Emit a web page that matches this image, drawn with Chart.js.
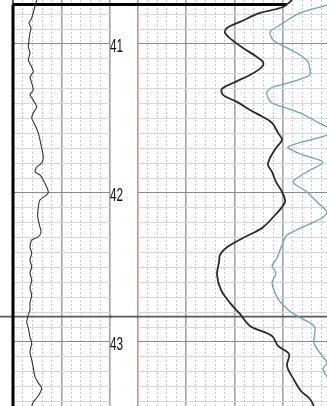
<!DOCTYPE html>
<html>
<head>
<meta charset="utf-8">
<script src="https://cdn.jsdelivr.net/npm/chart.js@4.4.1/dist/chart.umd.min.js"></script>
<style>
html,body{margin:0;padding:0;background:#fff;}
body{width:327px;height:406px;overflow:hidden;position:relative;}
canvas{position:absolute;top:0;}
#cA{left:0;}
#cB{left:110px;}
</style>
</head>
<body>
<canvas id="cA" width="112" height="406"></canvas>
<canvas id="cB" width="221" height="406"></canvas>
<script>
// ---- depth range and labels ----
const depthTop = 40.705;
const depthBottom = 43.43;
const depthLabels = [41, 42, 43];
const logStartDepth = 40.735;   // thick top line
const markerDepth = 42.83;      // dark full-width line

// ---- track scales ----
const leftMin = 0, leftMax = 100, leftMinorStep = 10, leftMajorStep = 50;
const rightMin = 0, rightMax = 200, rightMinorStep = 10, rightMajorStep = 50;
const topLineEndValue = 154;

// ---- left track curve ----
const leftDepth = [40.705,40.772,40.826,40.859,40.893,40.926,40.973,41.020,41.060,41.107,41.154,41.188,41.221,41.262,41.309,41.342,41.376,41.423,41.463,41.497,41.544,41.597,41.644,41.698,41.758,41.799,41.826,41.859,41.879,41.913,41.960,41.993,42.013,42.047,42.094,42.161,42.228,42.262,42.295,42.315,42.362,42.403,42.450,42.497,42.537,42.584,42.638,42.685,42.738,42.785,42.819,42.866,42.906,42.966,43.007,43.067,43.121,43.174,43.235,43.275,43.309,43.342,43.376,43.403,43.430];
const leftValue = [24.4,21.6,19.3,16.5,18.6,17.5,16.5,15.8,17.5,15.8,19.3,20.9,17.5,19.3,20.9,17.5,20.9,24.4,20.9,19.3,22.7,26.1,27.8,29.6,31.2,29.6,24.4,22.7,27.8,31.2,34.7,36.4,34.7,27.8,26.1,25.5,27.8,28.9,26.1,19.3,17.5,19.3,17.5,19.3,17.5,19.3,17.5,19.3,17.5,17.5,15.8,14.1,15.8,17.5,19.3,17.5,19.3,20.9,22.7,26.1,29.6,27.8,24.4,20.9,19.3];

// ---- right track: black curve ----
const blackDepth = [40.705,40.752,40.792,40.852,40.893,40.926,40.973,41.027,41.087,41.121,41.154,41.208,41.262,41.302,41.342,41.389,41.443,41.490,41.530,41.597,41.644,41.698,41.765,41.812,41.859,41.926,41.993,42.060,42.148,42.235,42.302,42.369,42.416,42.463,42.550,42.651,42.738,42.812,42.893,42.960,43.027,43.081,43.161,43.255,43.329,43.383,43.430];
const blackValue = [159.6,150.3,126.4,105.7,92.2,90.2,97.4,108.8,123.3,129.5,128.5,116.1,98.4,87.0,88.1,102.6,116.1,129.5,138.9,145.1,149.2,143.0,136.8,134.7,138.9,143.0,149.2,152.3,142.0,128.5,108.8,91.2,85.0,84.0,81.9,86.0,95.3,105.7,116.1,138.9,145.1,156.5,154.4,161.7,168.9,178.2,182.4];

// ---- right track: teal curve ----
const tealDepth = [40.705,40.738,40.792,40.872,40.919,40.973,41.020,41.054,41.074,41.121,41.174,41.208,41.255,41.289,41.322,41.362,41.396,41.423,41.463,41.523,41.557,41.584,41.617,41.691,41.745,41.792,41.859,41.926,41.993,42.067,42.128,42.168,42.228,42.282,42.349,42.436,42.490,42.537,42.604,42.711,42.805,42.872,42.906,43.007,43.094,43.141,43.181,43.248,43.336,43.430];
const tealValue = [204.0,195.9,167.9,147.2,136.8,139.9,152.3,162.7,167.9,176.2,178.2,178.2,159.6,139.9,133.7,134.7,138.9,150.3,167.9,185.5,195.9,204.1,193.8,155.4,171.0,191.7,175.1,160.6,175.1,186.5,195.9,190.7,171.0,154.4,149.2,144.0,138.9,143.0,138.9,145.1,159.6,178.2,183.4,182.4,190.7,195.9,191.7,196.9,204.1,209.3];

// ---- grid positions ----
const depthGrid = [];
for (let k = 408; k <= 434; k++) depthGrid.push(k / 10);
const leftGrid = [];
for (let v = leftMin; v <= leftMax; v += leftMinorStep) leftGrid.push(v);
const rightGrid = [];
for (let v = rightMin; v <= rightMax; v += rightMinorStep) rightGrid.push(v);

const pts = (d, v) => d.map((dd, i) => ({x: v[i], y: dd}));
const isInt = v => Math.abs(v - Math.round(v)) < 1e-6;

function depthAxis(extra) {
  return Object.assign({
    type: 'linear', reverse: true, min: depthTop, max: depthBottom,
    afterBuildTicks: s => { s.ticks = depthGrid.map(v => ({value: v})); },
    ticks: {display: false},
    grid: {
      drawTicks: false,
      color: c => (c.tick && isInt(c.tick.value)) ? '#8c8c8c' : '#d6d6d6',
      lineWidth: 1
    },
    border: {display: false}
  }, extra);
}

function trackAxis(min, max, grid, major, zeroColor) {
  return {
    type: 'linear', position: 'top', min: min, max: max,
    afterBuildTicks: s => { s.ticks = grid.map(v => ({value: v})); },
    afterFit: s => { s.height = 0; },
    ticks: {display: false},
    grid: {
      drawTicks: false,
      color: c => {
        if (!c.tick) return '#ccc';
        const v = c.tick.value;
        if (zeroColor && v === 0) return zeroColor;
        return v % major === 0 ? '#a3a3a3' : '#c8c8c8';
      },
      lineWidth: c => (c.tick && c.tick.value % major === 0) ? 1.6 : 1
    },
    border: {
      display: false,
      dash: c => (c.tick && c.tick.value % major !== 0) ? [2, 2] : []
    }
  };
}

const overlayA = {
  id: 'overlayA',
  beforeDatasetsDraw(chart) {
    const ctx = chart.ctx, ys = chart.scales.y, a = chart.chartArea;
    const yTop = ys.getPixelForValue(logStartDepth);
    const yMark = ys.getPixelForValue(markerDepth);
    ctx.save();
    ctx.strokeStyle = '#5a5a5a'; ctx.lineWidth = 1.6;
    ctx.beginPath(); ctx.moveTo(0, yMark); ctx.lineTo(chart.width, yMark); ctx.stroke();
    ctx.strokeStyle = '#000';
    ctx.lineWidth = 3;
    ctx.beginPath(); ctx.moveTo(a.left, yTop); ctx.lineTo(chart.width, yTop); ctx.stroke();
    ctx.beginPath(); ctx.moveTo(a.left, yTop); ctx.lineTo(a.left, a.bottom); ctx.stroke();
    ctx.lineWidth = 1;
    ctx.beginPath(); ctx.moveTo(a.left, 0); ctx.lineTo(a.left, yTop); ctx.stroke();
    ctx.restore();
  }
};

const overlayB = {
  id: 'overlayB',
  beforeDatasetsDraw(chart) {
    const ctx = chart.ctx, ys = chart.scales.y, xs = chart.scales.x;
    const yTop = ys.getPixelForValue(logStartDepth);
    const yMark = ys.getPixelForValue(markerDepth);
    ctx.save();
    ctx.strokeStyle = '#5a5a5a'; ctx.lineWidth = 1.6;
    ctx.beginPath(); ctx.moveTo(0, yMark); ctx.lineTo(chart.width, yMark); ctx.stroke();
    ctx.strokeStyle = '#000'; ctx.lineWidth = 3;
    ctx.beginPath(); ctx.moveTo(0, yTop); ctx.lineTo(xs.getPixelForValue(topLineEndValue), yTop); ctx.stroke();
    // depth labels in the depth column (left of the y axis box)
    ctx.fillStyle = '#111';
    ctx.font = "19px 'Liberation Sans', Arial, sans-serif";
    ctx.textAlign = 'left';
    ctx.textBaseline = 'middle';
    depthLabels.forEach(d => {
      const y = ys.getPixelForValue(d) + 3;
      ctx.save();
      ctx.translate(ys.left, y);
      ctx.scale(0.62, 1);
      ctx.fillText(String(d), 0, 0);
      ctx.restore();
    });
    ctx.restore();
  }
};

const common = {
  responsive: false, animation: false, indexAxis: 'y',
  plugins: {legend: {display: false}, tooltip: {enabled: false}},
  elements: {point: {radius: 0}}
};

new Chart(document.getElementById('cA'), {
  type: 'line',
  data: {datasets: [{
    data: pts(leftDepth, leftValue),
    borderColor: '#333', borderWidth: 1.1, tension: 0.2, fill: false
  }]},
  options: Object.assign({}, common, {
    layout: {padding: {left: 13, right: 2, top: 0, bottom: 0}},
    scales: {
      x: trackAxis(leftMin, leftMax, leftGrid, leftMajorStep, null),
      y: depthAxis({afterFit: s => { s.width = 0; s.paddingTop = 0; s.paddingBottom = 0; }})
    }
  }),
  plugins: [overlayA]
});

new Chart(document.getElementById('cB'), {
  type: 'line',
  data: {datasets: [
    {data: pts(tealDepth, tealValue), borderColor: '#6fa89e', borderWidth: 1.3, tension: 0.25, fill: false},
    {data: pts(blackDepth, blackValue), borderColor: '#2a2a2a', borderWidth: 1.8, tension: 0.35, fill: false}
  ]},
  options: Object.assign({}, common, {
    layout: {padding: 0},
    scales: {
      x: trackAxis(rightMin, rightMax, rightGrid, rightMajorStep, '#c98e8e'),
      y: depthAxis({
        position: 'left',
        afterFit: s => { s.width = 28; s.paddingTop = 0; s.paddingBottom = 0; }
      })
    }
  }),
  plugins: [overlayB]
});
</script>
</body>
</html>
